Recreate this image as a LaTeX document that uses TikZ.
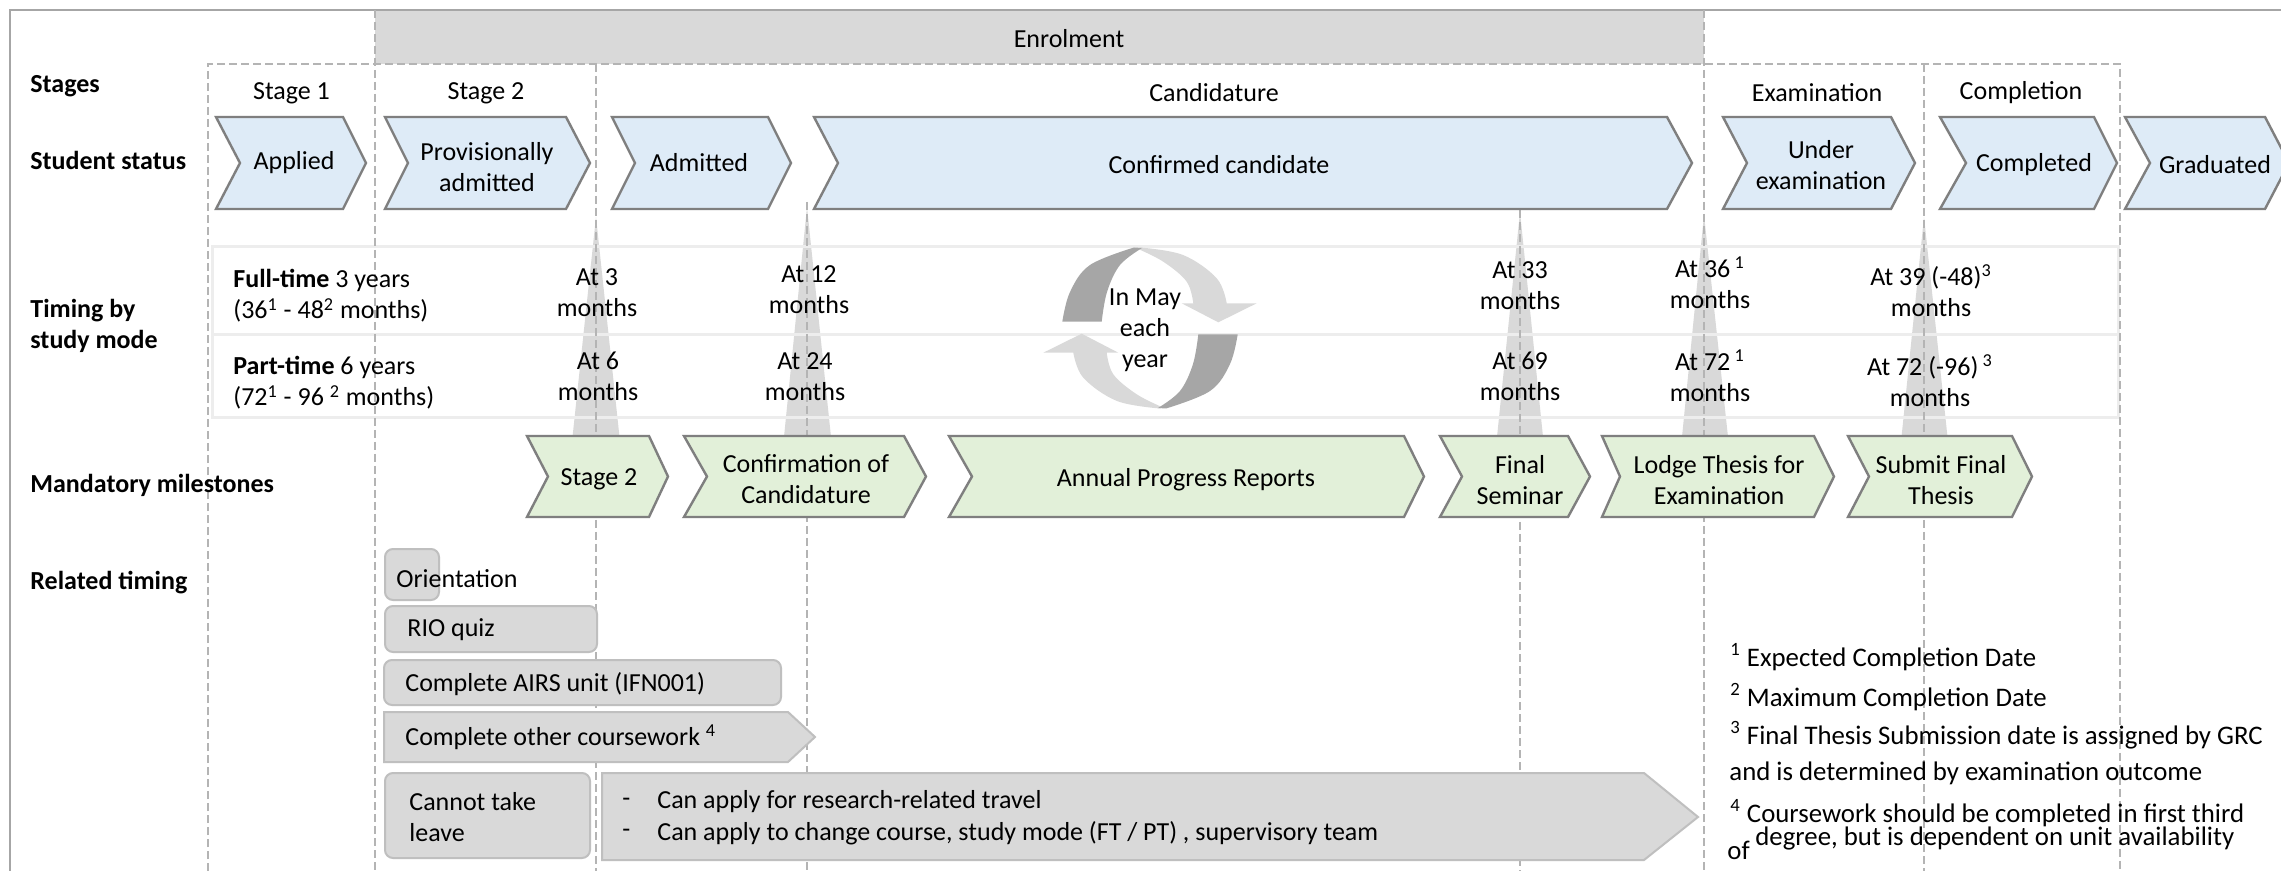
\documentclass[tikz,border=0pt]{standalone}
\usepackage{fontspec}
\setmainfont{Carlito}
\definecolor{blueF}{HTML}{DEEBF7}
\definecolor{greenF}{HTML}{E2F0D9}
\definecolor{grayF}{HTML}{D9D9D9}
\definecolor{darkG}{HTML}{A6A6A6}
\definecolor{strokeG}{HTML}{7F7F7F}
\definecolor{boxB}{HTML}{BFBFBF}
\definecolor{dashG}{HTML}{B4B4B4}
\definecolor{bandG}{HTML}{EDEDED}
\definecolor{frameG}{HTML}{A6A6A6}
\newcommand{\fs}{\fontsize{13}{15.5}\selectfont}
\newcommand{\fsn}{\fontsize{13.4}{15.5}\selectfont}
\newcommand{\mychev}[7]{\draw[#1] (#2,#6) -- (#4,#6) -- (#5,{(#6+#7)/2}) -- (#4,#7) -- (#2,#7) -- (#3,{(#6+#7)/2}) -- cycle;}
\tikzset{
  dashln/.style={draw=dashG, line width=0.8pt, dash pattern=on 4pt off 2pt},
  bluechev/.style={fill=blueF, draw=strokeG, line width=1.2pt},
  greenchev/.style={fill=greenF, draw=strokeG, line width=1.2pt},
  rtbox/.style={fill=grayF, draw=boxB, line width=1pt, rounded corners=4pt},
  rtarrow/.style={fill=grayF, draw=boxB, line width=1pt},
  spike/.style={fill=grayF, draw=none},
  lbl/.style={inner sep=0pt, align=center, font=\fs},
  rowlbl/.style={anchor=west, inner sep=0pt, align=left, font=\fs\bfseries},
  txtw/.style={anchor=west, inner sep=0pt, align=left, font=\fs},
  fnote/.style={anchor=west, inner sep=0pt, align=left, font=\fsn},
}
\begin{document}
\begin{tikzpicture}[x=0.5pt,y=-0.5pt]
\useasboundingbox (0,0) rectangle (2281,871);
\clip (0,0) rectangle (2281,871);
\fill[white] (0,0) rectangle (2281,871);
% enrolment band
\fill[grayF] (375,10) rectangle (1704,64);
% outer frame
\draw[frameG, line width=1pt] (10,871) -- (10,10) -- (2290,10);
% spikes
\fill[spike] (596,217) -- (619.5,437) -- (572.5,437) -- cycle;
\fill[spike] (807,207) -- (831,437) -- (784,437) -- cycle;
\fill[spike] (1520,212) -- (1543,437) -- (1497,437) -- cycle;
\fill[spike] (1704,215) -- (1728,437) -- (1682,437) -- cycle;
\fill[spike] (1924,217) -- (1947.5,437) -- (1901.5,437) -- cycle;
% timing band
\draw[bandG, line width=1.5pt] (212,247) rectangle (2118,418);
\draw[bandG, line width=1.5pt] (212,335) -- (2118,335);
% dashed lines
\draw[dashln] (208,871) -- (208,64) -- (2120,64) -- (2120,871);
\draw[dashln] (375,10) -- (375,871);
\draw[dashln] (596,64) -- (596,871);
\draw[dashln] (807,202) -- (807,871);
\draw[dashln] (1520,210) -- (1520,871);
\draw[dashln] (1704,10) -- (1704,871);
\draw[dashln] (1924,64) -- (1924,871);
% cycle graphic
\begin{scope}[shift={(1150,328)}]
  \foreach \r in {0,180}{
  \begin{scope}[rotate=\r]
  \fill[grayF] plot[smooth, tension=0.6] coordinates {(-10,-80.5) (33,-73) (66.7,-49.7) (76.7,-24.7)}
     -- (106.7,-24.7) -- (68.3,-5.7) -- (31.7,-24.7) -- (43.3,-24.7)
     -- plot[smooth, tension=0.6] coordinates {(43.3,-24.7) (36.7,-46.3) (13.3,-66.3) (-13,-79.5)} -- cycle;
  \fill[darkG] plot[smooth, tension=0.6] coordinates {(-16,-80.5) (-60,-63) (-80,-36) (-87.7,-6.3)}
     -- (-48.3,-6.3)
     -- plot[smooth, tension=0.6] coordinates {(-48.3,-6.3) (-43,-36) (-30,-63) (-8,-80)} -- cycle;
  \end{scope}}
\end{scope}
% student status chevrons
\mychev{bluechev}{216}{240}{343}{366}{117}{209}
\mychev{bluechev}{385}{408}{566}{590}{117}{209}
\mychev{bluechev}{612}{635}{768}{791}{117}{209}
\mychev{bluechev}{814}{838}{1667}{1692}{117}{209}
\mychev{bluechev}{1723}{1747}{1891}{1915}{117}{209}
\mychev{bluechev}{1940}{1966}{2094}{2117}{117}{209}
\mychev{bluechev}{2125}{2150}{2265}{2289}{117}{209}
% milestones
\mychev{greenchev}{527}{548}{649}{668}{436}{517}
\mychev{greenchev}{684}{707}{904}{926}{436}{517}
\mychev{greenchev}{949}{972}{1404}{1424}{436}{517}
\mychev{greenchev}{1440}{1462}{1568}{1590}{436}{517}
\mychev{greenchev}{1602}{1620}{1814}{1834}{436}{517}
\mychev{greenchev}{1848}{1869}{2012}{2032}{436}{517}
% related timing shapes
\draw[rtbox] (385,549) rectangle (439,600);
\draw[rtbox] (385,606) rectangle (597,652);
\draw[rtbox] (384,660) rectangle (781,705);
\draw[rtarrow] (384,712) -- (788,712) -- (815,737) -- (788,762) -- (384,762) -- cycle;
\draw[rtbox] (385,773) rectangle (590,858);
\draw[rtarrow] (602,773) -- (1644,773) -- (1698,817) -- (1644,860) -- (602,860) -- cycle;
% texts: header
\node[lbl] (enrol) at (1069,39) {Enrolment};
\node[rowlbl] (rStages) at (30,86) {Stages};
\node[rowlbl] (rStatus) at (30,160) {Student status};
\node[rowlbl] (rTiming) at (30,326) {Timing by\\study mode};
\node[rowlbl] (rMile) at (30,485) {Mandatory milestones};
\node[rowlbl] (rRel) at (30,583) {Related timing};
\node[lbl] (s1) at (291.5,93) {Stage 1};
\node[lbl] (s2) at (486,93) {Stage 2};
\node[lbl] (sCand) at (1214,93) {Candidature};
\node[lbl] (sExam) at (1817,93) {Examination};
\node[lbl] (sComp) at (2021,93) {Completion};
% status texts
\node[lbl] (tApplied) at (294,163) {Applied};
\node[lbl] (tProv) at (487,167) {Provisionally\\admitted};
\node[lbl] (tAdm) at (699,163) {Admitted};
\node[lbl] (tConf) at (1219,165) {Confirmed candidate};
\node[lbl] (tUnder) at (1821,165) {Under\\examination};
\node[lbl] (tCompl) at (2034,165) {Completed};
\node[lbl] (tGrad) at (2215,165) {Graduated};
% timing texts
\node[txtw] (ft) at (233,296) {\textbf{Full-time} 3 years\\(36\textsuperscript{1} - 48\textsuperscript{2} months)};
\node[txtw] (pt) at (233,383) {\textbf{Part-time} 6 years\\(72\textsuperscript{1} - 96 \textsuperscript{2} months)};
\node[lbl] (a3) at (597,293) {At 3\\months};
\node[lbl] (a6) at (598,376) {At 6\\months};
\node[lbl] (a12) at (809,290) {At 12\\months};
\node[lbl] (a24) at (805,377) {At 24\\months};
\node[lbl] (may) at (1145,330) {In May\\each\\year};
\node[lbl] (a33) at (1520,286) {At 33\\months};
\node[lbl] (a69) at (1520,376) {At 69\\months};
\node[lbl] (a36) at (1710,283) {At 36\,\textsuperscript{1}\\months};
\node[lbl] (a72) at (1710,376) {At 72\,\textsuperscript{1}\\months};
\node[lbl] (a39) at (1931,291) {At 39 (-48)\textsuperscript{3}\\months};
\node[lbl] (a72b) at (1930,381) {At 72 (-96)\,\textsuperscript{3}\\months};
% milestone texts
\node[lbl] (mS2) at (599,479) {Stage 2};
\node[lbl] (mConf) at (806,479) {Confirmation of\\Candidature};
\node[lbl] (mAPR) at (1186,480) {Annual Progress Reports};
\node[lbl] (mFS) at (1520,480) {Final\\Seminar};
\node[lbl] (mLodge) at (1719,480) {Lodge Thesis for\\Examination};
\node[lbl] (mSub) at (1941,480) {Submit Final\\Thesis};
% related timing texts
\node[txtw] (rOri) at (396,579) {Orientation};
\node[txtw] (rRIO) at (407,630) {RIO quiz};
\node[txtw] (rAIRS) at (405,684) {Complete AIRS unit (IFN001)};
\node[txtw] (rCW) at (405,737) {Complete other coursework \textsuperscript{4}};
\node[txtw] (rLeave) at (409,817) {Cannot take\\leave};
\node[txtw] (d1) at (622,802) {-};
\node[txtw] (d2) at (622,833) {-};
\node[txtw] (l1) at (657,802) {Can apply for research-related travel};
\node[txtw] (l2) at (657,833) {Can apply to change course, study mode (FT / PT) , supervisory team};
% footnotes
\node[fnote] (f1) at (1730,657) {\textsuperscript{1} Expected Completion Date};
\node[fnote] (f2) at (1730,697) {\textsuperscript{2} Maximum Completion Date};
\node[fnote] (f3) at (1730,735) {\textsuperscript{3} Final Thesis Submission date is assigned by GRC};
\node[fnote] (f3b) at (1729,773) {and is determined by examination outcome};
\node[fnote] (f4) at (1730,813) {\textsuperscript{4} Coursework should be completed in first third};
\node[fnote] (f4a) at (1727,850) {of};
\node[fnote] (f4b) at (1755,838) {degree, but is dependent on unit availability};
\end{tikzpicture}
\end{document}
